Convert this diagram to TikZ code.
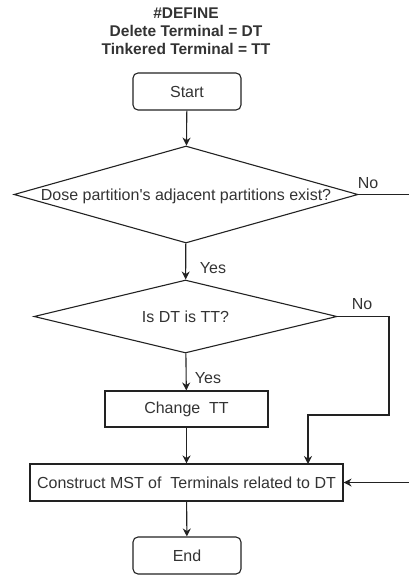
\documentclass[tikz,border=0pt]{standalone}
\usepackage{fontspec}
\setmainfont{Liberation Sans}
\usetikzlibrary{shapes.geometric,arrows.meta}
\definecolor{txtc}{HTML}{333333}
\definecolor{linec}{HTML}{222222}
\tikzset{
  base/.style={draw=linec, line width=1.1pt, text=txtc, font=\fontsize{16}{18}\selectfont, inner sep=0pt},
  term/.style={base, rounded corners=5pt, minimum width=108pt, minimum height=37pt},
  proc/.style={base, minimum height=37pt},
  dia/.style={base, diamond},
  lbl/.style={text=txtc, font=\fontsize{16}{18}\selectfont, inner sep=0pt},
  conn/.style={draw=linec, line width=1.1pt, -{Stealth[length=8pt,width=8pt]}},
  ttl/.style={text=txtc, font=\bfseries\fontsize{15.5}{18}\selectfont, inner sep=0pt, align=center}
}
\begin{document}
\begin{tikzpicture}[x=1pt,y=-1pt]
\useasboundingbox (0,0) rectangle (408,575);
\node[ttl] (title) at (186,31) {\#DEFINE\\Delete Terminal = DT\\Tinkered Terminal = TT};
\node[term] (start) at (187,91.5) {Start};
\node[dia, minimum width=344pt, minimum height=97pt] (d1) at (186,194.5) {};
\node[lbl] (d1t) at (186,196) {Dose partition\textquotesingle s adjacent partitions exist?};
\node[dia, minimum width=303pt, minimum height=73pt] (d2) at (185.5,316.5) {};
\node[lbl] (d2t) at (185.5,317) {Is DT is TT?};
\node[proc, minimum width=163pt, minimum height=36pt] (chg) at (186.5,409) {Change\ \ TT};
\node[proc, minimum width=313pt] (mst) at (186.5,482.5) {Construct MST of\ \ Terminals related to DT};
\node[term] (end) at (187,555.5) {End};
\coordinate (c1) at (389,316.5);
\coordinate (c2) at (389,415);
\coordinate (c3) at (308,415);
\coordinate (c4) at (308,464);
\coordinate (r1) at (420,194.5);
\coordinate (r2) at (420,482.5);
\draw[conn] (start) -- (d1);
\draw[conn] (d1) -- (d2);
\draw[conn] (d2) -- (chg);
\draw[conn] (chg) -- (mst);
\draw[conn] (mst) -- (end);
\draw[conn] (d2.east) -- (c1) -- (c2) -- (c3) -- (c4);
\draw[conn] (d1.east) -- (r1) -- (r2) -- (mst.east);
\node[lbl] (no1) at (368,183) {No};
\node[lbl] (yes1) at (213,268) {Yes};
\node[lbl] (no2) at (362,304) {No};
\node[lbl] (yes2) at (208,378) {Yes};
\end{tikzpicture}
\end{document}
